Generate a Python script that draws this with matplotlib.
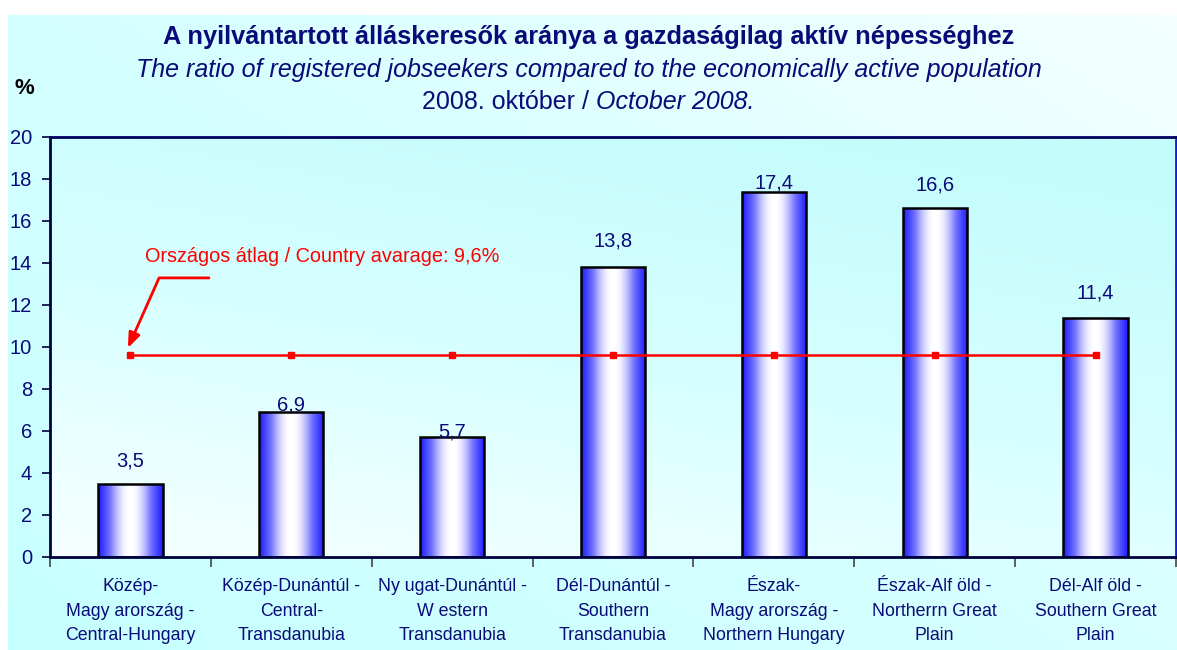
import numpy as np
import matplotlib
matplotlib.use("Agg")
import matplotlib.pyplot as plt
from matplotlib.colors import LinearSegmentedColormap

plt.rcParams['font.family'] = ['Liberation Sans', 'DejaVu Sans']

categories = [
    "Közép-\nMagy arország -\nCentral-Hungary",
    "Közép-Dunántúl -\nCentral-\nTransdanubia",
    "Ny ugat-Dunántúl -\nW estern\nTransdanubia",
    "Dél-Dunántúl -\nSouthern\nTransdanubia",
    "Észak-\nMagy arország -\nNorthern Hungary",
    "Észak-Alf öld -\nNortherrn Great\nPlain",
    "Dél-Alf öld -\nSouthern Great\nPlain",
]
values = [3.5, 6.9, 5.7, 13.8, 17.4, 16.6, 11.4]
value_labels = ["3,5", "6,9", "5,7", "13,8", "17,4", "16,6", "11,4"]
average = [9.6] * 7
yticks = [0, 2, 4, 6, 8, 10, 12, 14, 16, 18, 20]

# label centre offsets above bar tops (points) - style only
label_offsets = [16.5, 5, 3.6, 19, 6.5, 17, 18]

NAVY = '#0a0a78'
W, H = 1177, 650
fig = plt.figure(figsize=(W / 100, H / 100), dpi=100)
fig.patch.set_facecolor('white')

# figure background gradient
bg = fig.add_axes([8 / W, 0, 1 - 8 / W, 1 - 15 / H], zorder=-10)
bg.axis('off')
xx, yy = np.meshgrid(np.linspace(0, 1, 200), np.linspace(0, 1, 200))
g = np.clip(0.55 * xx + 0.45 * yy, 0, 1)
cmap_bg = LinearSegmentedColormap.from_list('bg', ['#c6ffff', '#d6ffff', '#f4ffff'])
bg.imshow(g, cmap=cmap_bg, origin='lower', extent=(0, 1, 0, 1), aspect='auto', vmin=0, vmax=1)
bg.set_xlim(0, 1)
bg.set_ylim(0, 1)

ax = fig.add_axes([50 / W, 1 - 557 / H, 1126 / W, 420 / H])
ax.set_facecolor('none')
g2 = np.clip(0.35 * xx + 0.75 * yy, 0, 1)
cmap_pa = LinearSegmentedColormap.from_list('pa', ['#f6ffff', '#d8ffff', '#c4fcfc'])
ax.imshow(g2, cmap=cmap_pa, origin='lower', extent=(0, 1, 0, 1), transform=ax.transAxes,
          aspect='auto', zorder=0, vmin=0, vmax=1)

x = np.arange(len(values))
bars = ax.bar(x, values, width=0.4, facecolor='none', edgecolor='black', linewidth=1.8, zorder=3)

t = np.linspace(0, 1, 64)
prof = np.sin(np.pi * t) ** 1.2
grad = prof[np.newaxis, :]
cmap_bar = LinearSegmentedColormap.from_list('bar', ['#2222ff', '#7777ff', '#ffffff'])
for b in bars:
    x0, y0, w, h = b.get_x(), b.get_y(), b.get_width(), b.get_height()
    im = ax.imshow(grad, cmap=cmap_bar, extent=(x0, x0 + w, y0, y0 + h), aspect='auto',
                   zorder=2, interpolation='nearest', vmin=0, vmax=1)
    im.set_clip_path(b)

for b, lab, off in zip(bars, value_labels, label_offsets):
    ax.annotate(lab, (b.get_x() + b.get_width() / 2, b.get_height()), xytext=(0, off),
                textcoords='offset points', ha='center', va='center', fontsize=14.5,
                color=NAVY, zorder=5)

ax.plot(x, average, color='#ff0000', linewidth=1.8, marker='s', markersize=4,
        markerfacecolor='#ff0000', markeredgecolor='#ff0000', zorder=4)

ax.set_xlim(-0.5, len(values) - 0.5)
ax.set_ylim(0, 20)
ax.set_yticks(yticks)
ax.set_yticklabels([str(v) for v in yticks], fontsize=14.5, color=NAVY)
ax.tick_params(axis='y', length=6, width=1.2, color='#000040', pad=7, direction='out')

ax.set_xticks(x)
ax.set_xticklabels(categories, fontsize=12.8, color=NAVY, linespacing=1.6)
ax.tick_params(axis='x', which='major', length=0, pad=15)
ax.set_xticks(np.arange(len(values) + 1) - 0.5, minor=True)
ax.tick_params(axis='x', which='minor', length=7, width=1.2, color='#444444', direction='out')

for s in ['left', 'bottom']:
    ax.spines[s].set_color('#000040')
    ax.spines[s].set_linewidth(2)
ax.spines['top'].set_color('#000060')
ax.spines['top'].set_linewidth(2)
ax.spines['right'].set_color('#1a1ad0')
ax.spines['right'].set_linewidth(2)
for s in ax.spines.values():
    s.set_zorder(6)

ax.text(0.09, 14.33, "Országos átlag / Country avarage: 9,6%", color='#ff0000',
        fontsize=14.3, ha='left', va='center', zorder=5)
ax.annotate("", xy=(-0.016, 9.95), xytext=(0.488, 13.29),
            arrowprops=dict(arrowstyle='-|>,head_length=0.9,head_width=0.35', color='#ff0000', lw=2,
                            connectionstyle='angle,angleA=0,angleB=66,rad=0',
                            shrinkA=0, shrinkB=0), zorder=5)

fig.text(0.5, 1 - 37 / H, "A nyilvántartott álláskeresők aránya a gazdaságilag aktív népességhez",
         ha='center', va='center', fontsize=18.3, fontweight='bold', color=NAVY)
fig.text(0.5, 1 - 70 / H, "The ratio of registered jobseekers compared to the economically active population",
         ha='center', va='center', fontsize=18, style='italic', color=NAVY)
t1 = fig.text(0.5, 1 - 102 / H, "2008. október / ", ha='right', va='center', fontsize=18, color=NAVY)
t2 = fig.text(0.5, 1 - 102 / H, "October 2008.", ha='left', va='center', fontsize=18,
              style='italic', color=NAVY)
fig.canvas.draw()
r = fig.canvas.get_renderer()
w1 = t1.get_window_extent(r).width
w2 = t2.get_window_extent(r).width
shift = (w1 - w2) / 2 / W
t1.set_x(0.5 + shift)
t2.set_x(0.5 + shift)

fig.text(24 / W, 1 - 88 / H, "%", ha='center', va='center', fontsize=16, fontweight='bold', color='black')

fig.savefig('out.png', dpi=100, facecolor=fig.get_facecolor())
